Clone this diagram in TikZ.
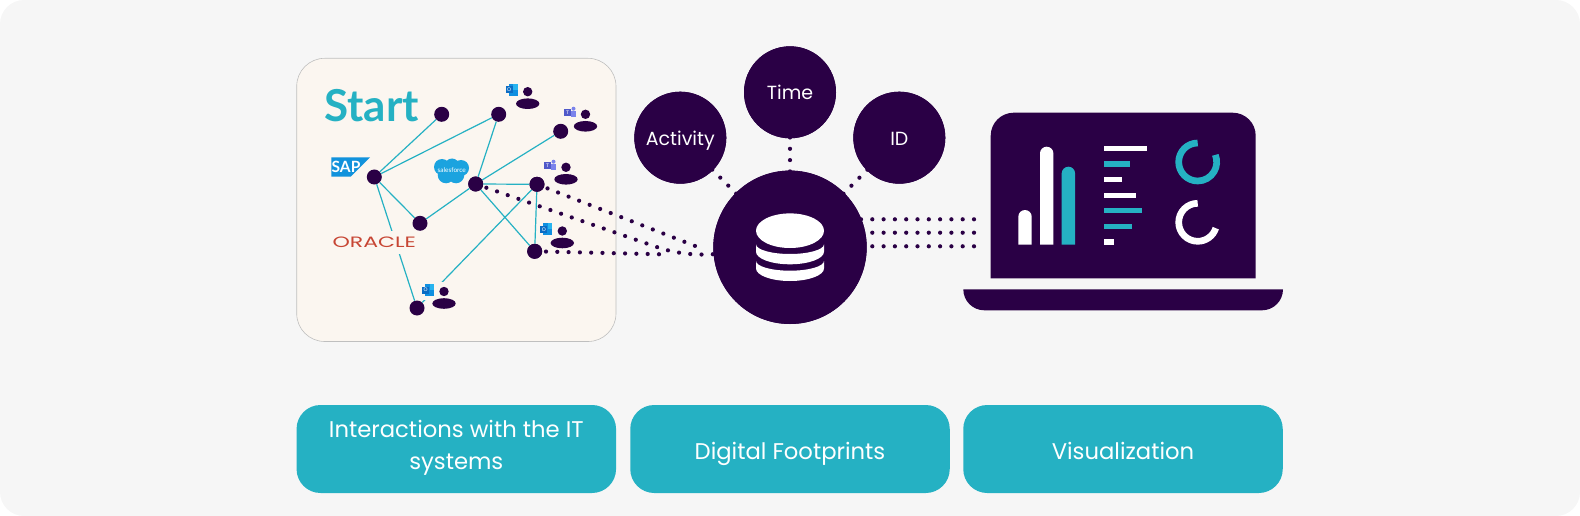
\documentclass[tikz,border=0pt]{standalone}
\usepackage{fontspec}
\setmainfont{Poppins}
\newfontfamily\logofont{Lato}
\usepackage{tikz}
\usetikzlibrary{calc}

\definecolor{plum}{HTML}{2A0045}
\definecolor{teal1}{HTML}{25B1C3}
\definecolor{panel}{HTML}{F6F6F6}
\definecolor{cream}{HTML}{FBF6F0}
\definecolor{oraclered}{HTML}{C74634}
\definecolor{sapblue}{HTML}{1192DC}
\definecolor{cloudblue}{HTML}{1BA3DF}
\definecolor{outdark}{HTML}{0B6CC4}
\definecolor{outmid}{HTML}{0F8FE0}
\definecolor{outlight}{HTML}{28B4EF}
\definecolor{teamdark}{HTML}{5059C9}
\definecolor{teamlight}{HTML}{7B83EB}

\tikzset{
	dotnode/.style = {circle, fill = plum, minimum size = 15pt, inner sep = 0pt},
	bignode/.style = {circle, fill = plum, minimum size = 92pt, inner sep = 0pt},
	bigtext/.style = {text = white, inner sep = 0pt, font = \fontsize{19}{23}\selectfont},
	link/.style = {teal1, line width = 1.2pt},
	dotline/.style = {plum, line width = 4.2pt, line cap = round, dash pattern = on 0pt off 11.3pt},
	caption/.style = {rounded corners = 24pt, fill = teal1, minimum width = 319.5pt, minimum height = 88pt, inner sep = 0pt},
	captext/.style = {text = white, align = center, inner sep = 0pt, font = \fontsize{22.7}{32}\selectfont},
	pics/person/.style = {code = {
		\fill[plum] (0, -12) circle[radius = 4.7];
		\fill[plum] (0, 0) ellipse[x radius = 11.7, y radius = 5.3];
	}},
	pics/outlook/.style = {code = {
		\fill[outmid] (-3, -6) rectangle (6, 6);
		\fill[outlight] (1.5, -6) rectangle (6, 0);
		\fill[outdark] (-6, -3.5) rectangle (1, 3.5);
		\node[text = white, inner sep = 0pt, font = \logofont\fontsize{5}{5}\selectfont] (o) at (-2.5, 0) {O};
	}},
	pics/teams/.style = {code = {
		\fill[teamlight] (3.5, -4) circle[radius = 2];
		\fill[teamlight] (1, -2) rectangle (6, 4);
		\fill[teamdark] (-6, -3.5) rectangle (1, 3.5);
		\node[text = white, inner sep = 0pt, font = \logofont\fontsize{5}{5}\selectfont] (t) at (-2.5, 0) {T};
	}}
}

\begin{document}
\begin{tikzpicture}[x = 1pt, y = -1pt]
	\useasboundingbox (0, 0) rectangle (1580, 516);
	\fill[panel, rounded corners = 24pt] (0, 0) rectangle (1580, 516);

	\draw[black!25, fill = cream, line width = 0.6pt, rounded corners = 28pt] (296.7, 58.3) rectangle (616, 341.5);

	\node[dotnode] (free) at (441.7, 114.3) {};
	\node[dotnode] (outa) at (498.7, 114.3) {};
	\node[dotnode] (teama) at (560.7, 131.3) {};
	\node[dotnode] (sap) at (374.3, 177) {};
	\node[dotnode] (force) at (475.7, 184) {};
	\node[dotnode] (teamb) at (537, 184.3) {};
	\node[dotnode] (mid) at (420, 223.3) {};
	\node[dotnode] (outb) at (534.7, 251.3) {};
	\node[dotnode] (outc) at (417, 308) {};

	\draw[link] (sap)--(free);
	\draw[link] (sap)--(outa);
	\draw[link] (sap)--(mid);
	\draw[link] (sap)--(outc);
	\draw[link] (mid)--(force);
	\draw[link] (force)--(outa);
	\draw[link] (force)--(teama);
	\draw[link] (force)--(teamb);
	\draw[link] (force)--(outb);
	\draw[link] (teamb)--(outb);
	\draw[link] (teamb)--(outc);

	% logos sit on card colour and cut the lines
	\fill[cream] (332, 231) rectangle (417, 254);
	\fill[cream] (421, 282) rectangle (458, 300);

	\node[text = teal1, inner sep = 0pt, font = \logofont\fontsize{44}{44}\bfseries\selectfont] (start) at (371.7, 106) {Start};
	\fill[sapblue] (331.3, 157.3)--(370, 157.3)--(350.7, 176.7)--(331.3, 176.7)--cycle;
	\node[text = white, inner sep = 0pt, font = \logofont\fontsize{15.5}{15}\bfseries\selectfont] (saplogo) at (346, 167) {SAP};
	\fill[cloudblue] (442, 167) circle[radius = 8] (452, 165.5) circle[radius = 7] (461, 168) circle[radius = 8] (446, 175) circle[radius = 8.3] (456, 175) circle[radius = 8.3];
	\node[text = white, inner sep = 0pt, font = \logofont\fontsize{6.5}{6.5}\selectfont] (forcelogo) at (451.7, 170.5) {salesforce};
	\node[text = oraclered, inner sep = 0pt, font = \fontsize{15}{15}\selectfont] (oraclelogo) at (374.3, 242) {\scalebox{1.47}[1]{ORACLE}};

	\pic at (527.7, 103.7) {person};
	\pic at (585.5, 126.3) {person};
	\pic at (566, 179.3) {person};
	\pic at (562.3, 243) {person};
	\pic at (444, 303.5) {person};
	\pic at (511.7, 90) {outlook};
	\pic at (546.3, 229.3) {outlook};
	\pic at (428, 290) {outlook};
	\pic at (570, 112.7) {teams};
	\pic at (550, 165.7) {teams};

	% footprints
	\coordinate (rowa) at (696, 246.3);
	\coordinate (bend) at (656.7, 247);
	\coordinate (joint) at (716, 254);
	\coordinate (rowc) at (661, 254.3);
	\node[bignode, minimum size = 153.4pt] (hub) at (790, 247.3) {};
	\node[bignode] (activity) at (680.3, 137.7) {};
	\node[bignode] (clock) at (790, 92.3) {};
	\node[bignode] (ident) at (899.3, 137.7) {};

	\draw[dotline] (teamb.center)--(rowa);
	\draw[dotline] (force.center)--(bend) .. controls (677, 254) and (697, 255.5) .. (joint);
	\draw[dotline] (outb.center)--(rowc);
	\draw[dotline] (activity.center)--(hub.center);
	\draw[dotline] (clock.center)--(hub.center);
	\draw[dotline] (ident.center)--(hub.center);
	\foreach \row/\y in {a/219.3, b/232.7, c/246.3}{
		\coordinate (end\row) at (974, \y);
		\draw[dotline] (end\row)--(hub.center |- end\row);
	}

	\fill[plum] (force) circle[radius = 7.5] (teamb) circle[radius = 7.5] (outb) circle[radius = 7.5];
	\fill[plum] (activity) circle[radius = 46] (clock) circle[radius = 46] (ident) circle[radius = 46];
	\fill[plum] (hub) circle[radius = 76.7];
	\node[bigtext] (activitytext) at (680.3, 141) {Activity};
	\node[bigtext] (clocktext) at (790, 92.8) {Time};
	\node[bigtext] (identtext) at (899.3, 139) {ID};

	% database
	\fill[white] (790, 230.7) ellipse[x radius = 34, y radius = 17.3];
	\foreach \top in {244.3, 261}{
		\fill[white] (756, \top)--(756, \top + 7.4) arc[start angle = 180, end angle = 0, x radius = 34, y radius = 12.6]--(824, \top) arc[start angle = 0, end angle = 180, x radius = 34, y radius = 9.7]--cycle;
	}

	% laptop
	\fill[plum] (990.7, 278.3)--(990.7, 135.7) arc[start angle = 180, end angle = 270, radius = 23]--(1232.7, 112.7) arc[start angle = 270, end angle = 360, radius = 23]--(1255.7, 278.3)--cycle;
	\fill[plum] (963.3, 289.3)--(1283, 289.3) arc[start angle = 0, end angle = 90, radius = 21]--(984.3, 310.3) arc[start angle = 90, end angle = 180, radius = 21]--cycle;

	\fill[white] (1018.3, 244.7)--(1018.3, 216.7) arc[start angle = 180, end angle = 360, radius = 6.7]--(1031.7, 244.7)--cycle;
	\fill[white] (1040, 244.7)--(1040, 153.4) arc[start angle = 180, end angle = 360, radius = 6.7]--(1053.3, 244.7)--cycle;
	\fill[teal1] (1061.7, 244.7)--(1061.7, 173.4) arc[start angle = 180, end angle = 360, radius = 6.7]--(1075, 244.7)--cycle;

	\foreach \y/\xend/\col in {148.7/1146.7/white, 164/1130/teal1, 179.7/1121.7/white, 195.3/1136/white, 210.7/1142/teal1, 226.3/1132/teal1, 242/1113.7/white}{
		\fill[\col] (1103.7, \y - 2.7) rectangle (\xend, \y + 2.7);
	}

	\draw[teal1, line width = 6.7pt] (1197.7, 143) arc[start angle = 270, end angle = -22, radius = 19];
	\draw[white, line width = 6.7pt] (1197.7, 203.3) arc[start angle = 270, end angle = 18, radius = 19];

	\node[caption] (systems) at (456.3, 449) {};
	\node[caption] (footprints) at (790, 449) {};
	\node[caption] (visual) at (1123, 449) {};
	\node[captext] (systemstext) at (456.3, 447.5) {Interactions with the IT\\systems};
	\node[captext] (footprintstext) at (790, 453.5) {Digital Footprints};
	\node[captext] (visualtext) at (1123, 450.5) {Visualization};
\end{tikzpicture}
\end{document}
